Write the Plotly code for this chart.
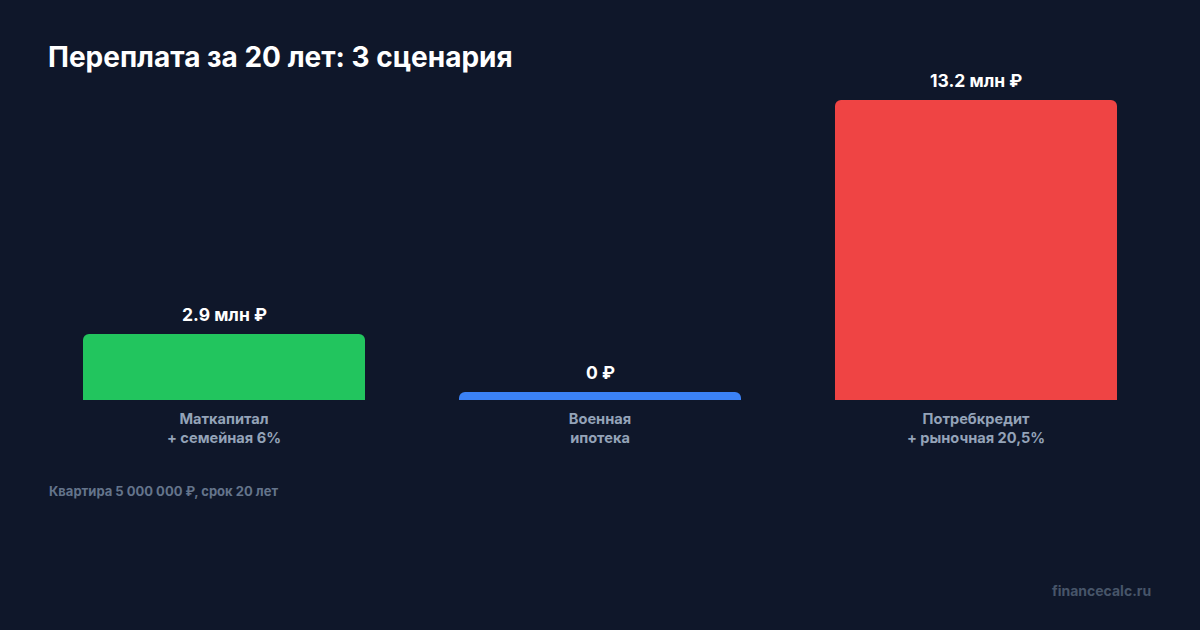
import plotly.graph_objects as go

# Data
categories = ["Маткапитал<br>+ семейная 6%", "Военная<br>ипотека", "Потребкредит<br>+ рыночная 20,5%"]
values = [2.9, 0.0, 13.2]  # млн ₽
value_labels = ["2.9 млн ₽", "0 ₽", "13.2 млн ₽"]
colors = ["#22c55e", "#3b82f6", "#ef4444"]

BG = "#0f172a"
FONT = "Inter, Roboto, sans-serif"

ymax = max(values)
min_visible = ymax * 8 / 300  # keep zero bar visible as a thin strip
display = [max(v, min_visible) for v in values]

fig = go.Figure()
fig.add_trace(go.Bar(
    x=categories, y=display,
    marker=dict(color=colors, line=dict(width=0)),
    hoverinfo="skip",
))

for c, d, lab in zip(categories, display, value_labels):
    fig.add_annotation(x=c, y=d, xref="x", yref="y", text=lab,
                       showarrow=False, yanchor="bottom", yshift=7,
                       font=dict(family=FONT, size=17.5, color="#ffffff", weight=700))

fig.add_annotation(xref="paper", yref="paper", x=(47 - 36) / 1128, y=(400 - 491) / 300,
                   xanchor="left", yanchor="middle", showarrow=False,
                   text="Квартира 5 000 000 ₽, срок 20 лет",
                   font=dict(family=FONT, size=13, color="#64748b", weight=700))
fig.add_annotation(xref="paper", yref="paper", x=(1153 - 36) / 1128, y=(400 - 590) / 300,
                   xanchor="right", yanchor="middle", showarrow=False,
                   text="financecalc.ru",
                   font=dict(family=FONT, size=14, color="#475569", weight=700))

fig.update_layout(
    width=1200, height=630,
    paper_bgcolor=BG, plot_bgcolor=BG,
    margin=dict(l=36, r=36, t=100, b=230),
    bargap=0.25,
    barcornerradius=6,
    showlegend=False,
    title=dict(text="Переплата за 20 лет: 3 сценария",
               x=48 / 1200, xref="container", xanchor="left",
               y=1 - 57 / 630, yref="container", yanchor="middle",
               font=dict(family=FONT, size=28, color="#ffffff", weight=700)),
    xaxis=dict(showgrid=False, zeroline=False, showline=False, ticks="",
               ticklabelstandoff=8,
               tickfont=dict(family=FONT, size=14.6, color="#94a3b8", weight=700),
               fixedrange=True),
    yaxis=dict(range=[0, ymax], showgrid=False, zeroline=False, showline=False,
               showticklabels=False, fixedrange=True),
)

fig.write_html("out.html",
               config={"displayModeBar": False},
               post_script="document.body.style.margin='0';document.body.style.background='#0f172a';")
